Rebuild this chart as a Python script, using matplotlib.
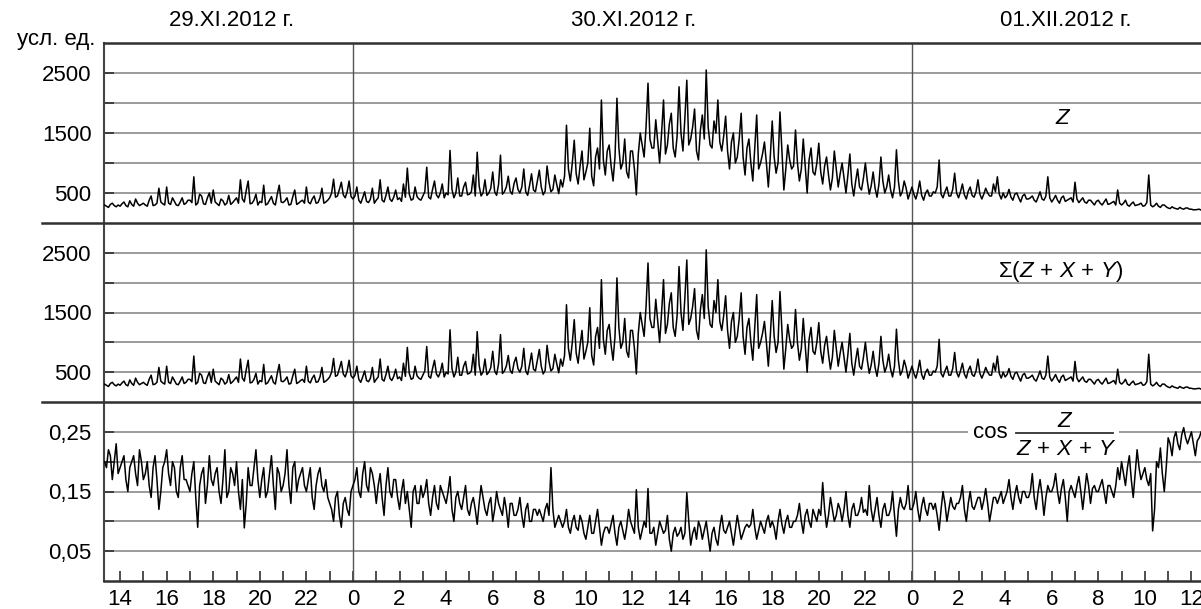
import numpy as np
import matplotlib.pyplot as plt
from matplotlib.lines import Line2D
from matplotlib.patches import Rectangle

plt.rcParams['font.family'] = ['Liberation Sans', 'DejaVu Sans']
plt.rcParams['mathtext.fontset'] = 'custom'
plt.rcParams['mathtext.rm'] = 'Liberation Sans'
plt.rcParams['mathtext.it'] = 'Liberation Sans:italic'

# readings every 10 min from 29.XI 13:20 (hours counted from 29.XI 00:00),
# plus the readings taken 5 min after each of them
t_start = 13 + 20 / 60
t_step = 1 / 6

# Z, one row per hour
z_vals = [
    300, 260, 330, 270,                     # 13
    280, 350, 270, 310, 400, 290,           # 14
    330, 280, 450, 300, 580, 320,           # 15
    600, 310, 360, 290, 420, 330,           # 16
    380, 770, 330, 450, 310, 500,           # 17
    550, 320, 400, 300, 460, 340,           # 18
    420, 720, 350, 700, 330, 480,           # 19
    360, 630, 320, 440, 300, 630,           # 20
    340, 420, 310, 550, 330, 380,           # 21
    600, 320, 450, 340, 580, 350,           # 22
    420, 730, 450, 680, 420, 700,           # 23
    400, 600, 330, 520, 340, 580,           # 0
    380, 720, 350, 600, 360, 550,           # 1
    420, 650, 915, 380, 600, 400,           # 2
    450, 930, 400, 700, 420, 650,           # 3
    500, 1210, 420, 750, 450, 680,          # 4
    480, 800, 1180, 450, 720, 500,          # 5
    850, 460, 1130, 520, 780, 480,          # 6
    750, 500, 900, 460, 820, 520,           # 7
    880, 470, 950, 520, 800, 490,           # 8
    600, 1630, 700, 1380, 650, 1200,        # 9
    850, 1580, 620, 1250, 2050, 800,        # 10
    1300, 700, 2080, 900, 1400, 750,        # 11
    1200, 470, 1500, 1100, 2330, 1250,      # 12
    1720, 1000, 2050, 1300, 1830, 1100,     # 13
    2270, 1200, 2380, 1400, 1900, 1050,     # 14
    1800, 2550, 1300, 1700, 2050, 1200,     # 15
    1780, 900, 1500, 1100, 1830, 800,       # 16
    1400, 700, 1800, 1000, 1350, 600,       # 17
    1700, 830, 1850, 550, 1300, 900,        # 18
    1550, 700, 1400, 500, 1250, 800,        # 19
    1330, 650, 1100, 550, 1200, 600,        # 20
    1000, 500, 1150, 450, 900, 550,         # 21
    1000, 480, 850, 430, 1100, 500,         # 22
    800, 420, 1220, 450, 700, 400,          # 23
    600, 400, 700, 380, 550, 450,           # 0
    500, 1050, 420, 600, 450, 830,          # 1
    420, 650, 400, 600, 430, 720,           # 2
    400, 580, 450, 650, 770, 400,           # 3
    420, 560, 380, 500, 350, 480,           # 4
    400, 450, 350, 520, 380, 770,           # 5
    350, 460, 330, 450, 380, 420,           # 6
    680, 340, 420, 330, 380, 300,           # 7
    380, 300, 400, 320, 360, 550,           # 8
    300, 380, 280, 350, 300, 330,           # 9
    290, 800, 270, 330, 260, 300,           # 10
    250, 270, 240, 260, 230, 250,           # 11
    230, 220, 230,                          # 12
]

# Z, readings 5 min later
z_mid = [
    280, 310, 290, 300,                     # 13
    320, 290, 370, 280, 330, 310,           # 14
    300, 380, 290, 330, 350, 300,           # 15
    330, 420, 300, 350, 310, 380,           # 16
    340, 300, 480, 320, 420, 330,           # 17
    350, 290, 370, 330, 310, 380,           # 18
    330, 400, 540, 320, 380, 300,           # 19
    340, 300, 380, 330, 480, 350,           # 20
    370, 300, 440, 310, 360, 330,           # 21
    350, 400, 330, 420, 330, 380,           # 22
    500, 430, 560, 470, 520, 440,           # 23
    450, 380, 420, 360, 400, 330,           # 0
    420, 380, 460, 400, 430, 390,           # 1
    360, 430, 480, 400, 440, 380,           # 2
    520, 430, 560, 470, 500, 420,           # 3
    470, 560, 500, 450, 600, 470,           # 4
    520, 450, 620, 500, 460, 580,           # 5
    520, 640, 480, 600, 530, 660,           # 6
    560, 600, 520, 630, 550, 700,           # 7
    600, 530, 680, 560, 640, 720,           # 8
    780, 900, 1000, 820, 950, 720,          # 9
    1000, 780, 1100, 900, 1050, 1200,       # 10
    950, 1100, 1250, 1000, 850, 1200,       # 11
    900, 1150, 1300, 1600, 1400, 1250,      # 12
    1350, 1500, 1150, 1650, 1250, 1450,     # 13
    1500, 1750, 1300, 1600, 1200, 1550,     # 14
    1400, 1600, 1250, 1500, 1350, 1450,     # 15
    1200, 1350, 1000, 1400, 1100, 1250,     # 16
    1000, 1250, 900, 1150, 1000, 1100,      # 17
    1100, 1000, 1200, 900, 1050, 950,       # 18
    1000, 900, 950, 1050, 850, 1000,        # 19
    850, 950, 800, 750, 900, 820,           # 20
    750, 800, 650, 700, 600, 750,           # 21
    700, 620, 580, 650, 700, 600,           # 22
    550, 600, 700, 520, 580, 500,           # 23
    480, 520, 460, 500, 450, 520,           # 0
    600, 480, 520, 450, 560, 500,           # 1
    520, 470, 530, 460, 520, 480,           # 2
    480, 500, 450, 520, 480, 500,           # 3
    460, 430, 480, 420, 450, 400,           # 4
    420, 380, 430, 400, 450, 420,           # 5
    400, 380, 420, 360, 400, 350,           # 6
    400, 380, 350, 380, 340, 360,           # 7
    330, 350, 310, 340, 300, 330,           # 8
    330, 300, 320, 290, 310, 280,           # 9
    340, 300, 290, 280, 300, 270,           # 10
    240, 250, 230, 240, 250, 230,           # 11
    220, 225, 215,                          # 12
]

# sum(Z+X+Y): reads the same as Z at this resolution
sum_vals = list(z_vals)
sum_mid = list(z_mid)

# cos Z/(Z+X+Y), one row per hour
cos_vals = [
    .20, .22, .17, .23,                     # 13
    .19, .21, .15, .20, .18, .22,           # 14
    .17, .20, .14, .21, .12, .19,           # 15
    .22, .16, .19, .14, .21, .17,           # 16
    .15, .20, .09, .18, .13, .21,           # 17
    .16, .19, .13, .22, .15, .18,           # 18
    .20, .12, .089, .19, .16, .22,          # 19
    .14, .19, .15, .21, .12, .18,           # 20
    .16, .22, .13, .20, .17, .19,           # 21
    .15, .19, .12, .18, .16, .17,           # 22
    .13, .10, .15, .09, .14, .11,           # 23
    .16, .19, .14, .20, .15, .18,           # 0
    .13, .18, .11, .19, .14, .17,           # 1
    .12, .17, .15, .09, .16, .13,           # 2
    .14, .17, .11, .16, .12, .15,           # 3
    .13, .175, .10, .15, .12, .16,          # 4
    .11, .14, .095, .16, .12, .13,          # 5
    .10, .15, .12, .14, .09, .13,           # 6
    .11, .14, .09, .13, .10, .12,           # 7
    .12, .10, .13, .19, .09, .11,           # 8
    .09, .12, .08, .11, .085, .10,          # 9
    .07, .11, .08, .12, .06, .09,           # 10
    .08, .11, .06, .10, .07, .12,           # 11
    .09, .153, .07, .10, .155, .08,         # 12
    .06, .10, .08, .11, .05, .09,           # 13
    .08, .07, .148, .06, .09, .10,          # 14
    .07, .10, .05, .09, .06, .11,           # 15
    .08, .10, .06, .11, .07, .09,           # 16
    .09, .12, .07, .10, .08, .11,           # 17
    .10, .07, .12, .08, .11, .09,           # 18
    .10, .13, .08, .12, .09, .11,           # 19
    .12, .165, .09, .14, .10, .13,          # 20
    .10, .15, .09, .13, .11, .14,           # 21
    .12, .16, .10, .14, .09, .13,           # 22
    .11, .15, .075, .14, .12, .16,          # 23
    .12, .15, .10, .14, .11, .13,           # 0
    .13, .085, .15, .10, .14, .12,          # 1
    .13, .16, .10, .15, .12, .14,           # 2
    .12, .155, .10, .14, .13, .15,          # 3
    .14, .17, .12, .16, .13, .15,           # 4
    .14, .18, .12, .17, .11, .16,           # 5
    .15, .18, .13, .17, .10, .16,           # 6
    .14, .175, .12, .18, .13, .16,          # 7
    .15, .17, .13, .16, .14, .19,           # 8
    .20, .16, .21, .14, .22, .17,           # 9
    .19, .16, .084, .20, .223, .15,         # 10
    .24, .21, .25, .22, .257, .23,          # 11
    .25, .21, .24,                          # 12
]

# cos, readings 5 min later
cos_mid = [
    .19, .21, .20, .18,                     # 13
    .20, .17, .19, .21, .16, .20,           # 14
    .18, .16, .19, .17, .15, .20,           # 15
    .18, .20, .15, .19, .17, .16,           # 16
    .18, .14, .16, .19, .16, .17,           # 17
    .18, .15, .17, .14, .19, .16,           # 18
    .15, .17, .13, .16, .19, .17,           # 19
    .17, .14, .18, .16, .19, .15,           # 20
    .18, .16, .19, .15, .18, .16,           # 21
    .17, .14, .16, .19, .15, .14,           # 22
    .12, .14, .11, .13, .12, .15,           # 23
    .17, .15, .18, .16, .19, .16,           # 0
    .16, .14, .16, .15, .17, .14,           # 1
    .15, .13, .12, .15, .13, .16,           # 2
    .15, .13, .14, .13, .16, .14,           # 3
    .15, .12, .14, .13, .14, .12,           # 4
    .13, .12, .13, .14, .11, .14,           # 5
    .12, .13, .11, .12, .13, .11,           # 6
    .12, .11, .12, .10, .12, .11,           # 7
    .11, .12, .11, .12, .10, .10,           # 8
    .10, .09, .10, .09, .11, .08,           # 9
    .09, .08, .10, .09, .08, .09,           # 10
    .095, .08, .09, .085, .09, .10,         # 11
    .08, .09, .085, .09, .08, .09,          # 12
    .08, .09, .085, .07, .08, .075,         # 13
    .09, .08, .10, .08, .07, .09,           # 14
    .085, .075, .08, .07, .09, .085,        # 15
    .09, .08, .085, .09, .08, .095,         # 16
    .095, .09, .085, .09, .10, .09,         # 17
    .09, .10, .095, .10, .09, .10,          # 18
    .11, .10, .11, .10, .12, .10,           # 19
    .11, .12, .11, .12, .11, .12,           # 20
    .12, .11, .12, .11, .12, .115,          # 21
    .11, .12, .12, .11, .12, .11,           # 22
    .12, .11, .12, .125, .13, .12,          # 23
    .13, .12, .125, .12, .13, .12,          # 0
    .11, .12, .13, .12, .125, .13,          # 1
    .14, .12, .13, .125, .13, .14,          # 2
    .135, .13, .12, .14, .14, .13,          # 3
    .15, .14, .145, .14, .15, .14,          # 4
    .15, .14, .15, .145, .14, .15,          # 5
    .16, .15, .155, .14, .15, .15,          # 6
    .16, .15, .15, .16, .155, .15,          # 7
    .16, .15, .16, .15, .16, .17,           # 8
    .18, .19, .17, .18, .19, .18,           # 9
    .17, .18, .12, .19, .18, .19,           # 10
    .23, .24, .23, .245, .24, .24,          # 11
    .23, .235, .25,                         # 12
]

date_labels = ['29.XI.2012 г.', '30.XI.2012 г.', '01.XII.2012 г.']
hour_ticks = list(range(14, 61))

t_a = t_start + np.arange(len(z_vals)) * t_step
t = np.concatenate([t_a, t_a + t_step / 2])
order = np.argsort(t)
t = t[order]


def merged(a, b):
    return np.concatenate([a, b])[order]


W, H = 1201, 609
fig = plt.figure(figsize=(W / 100, H / 100), dpi=100)
FS = 16
grid_c = '#8a8a8a'
dark = '#303030'

left = 104 / W
width = 1 - left
edges = [43, 223, 402, 581]  # panel boundaries in pixels from the top
axes = []
for i in range(3):
    top, bot = edges[i], edges[i + 1]
    ax = fig.add_axes([left, 1 - bot / H, width, (bot - top) / H])
    axes.append(ax)
ax1, ax2, ax3 = axes

series = [(ax1, merged(z_vals, z_mid)),
          (ax2, merged(sum_vals, sum_mid)),
          (ax3, merged(cos_vals, cos_mid))]
for ax, vals in series:
    ax.plot(t, vals, color='black', lw=1.1, zorder=3)
    ax.set_xlim(13.31, 60.41)
    for mid in (24, 48):
        ax.axvline(mid, color='#555555', lw=1.0, zorder=1)
    ax.grid(axis='y', color=grid_c, lw=1.2, zorder=0)
    ax.set_axisbelow(True)
    for s in ('right', 'top', 'bottom'):
        ax.spines[s].set_visible(False)
    ax.spines['left'].set_color('#444444')
    ax.spines['left'].set_linewidth(1.5)
    ax.tick_params(axis='y', direction='in', length=7, width=1.2, color=dark,
                   labelsize=FS, pad=9)

for ax in (ax1, ax2):
    ax.set_ylim(0, 3000)
    ax.set_yticks([500, 1000, 1500, 2000, 2500])
    ax.set_yticklabels(['500', '', '1500', '', '2500'])
    ax.set_xticks([])

ax3.set_ylim(0, 0.3)
ax3.set_yticks([0.05, 0.10, 0.15, 0.20, 0.25])
ax3.set_yticklabels(['0,05', '', '0,15', '', '0,25'])
ax3.set_xticks(hour_ticks)
ax3.set_xticklabels([str(h % 24) if h % 2 == 0 else '' for h in hour_ticks])
ax3.tick_params(axis='x', direction='in', length=7, width=1.2, color=dark,
                labelsize=FS, pad=6)
ax3.spines['bottom'].set_visible(True)
ax3.spines['bottom'].set_color(dark)
ax3.spines['bottom'].set_linewidth(1.8)
ax1.spines['top'].set_visible(True)
ax1.spines['top'].set_color(dark)
ax1.spines['top'].set_linewidth(1.8)

# separators between panels reach past the left spine
for yp in (223, 402):
    fig.add_artist(Line2D([42 / W, 1], [1 - yp / H, 1 - yp / H],
                          transform=fig.transFigure, color=dark, lw=1.8))

# series labels
ax1.text(54.5, 1750, '$Z$', fontsize=FS, ha='center', va='center')
ax2.text(54.4, 2180, r'$\Sigma(Z\,+\,X\,+\,Y)$', fontsize=FS,
         ha='center', va='center')

# cos Z/(Z+X+Y) built from pieces so the fraction keeps full size
ax3.add_patch(Rectangle((50.4, 0.208), 6.5, 0.078, facecolor='white',
                        edgecolor='none', zorder=2))
ax3.text(51.35, 0.2397, 'cos', fontsize=FS, ha='center', va='baseline', zorder=4)
ax3.text(54.6, 0.2581, '$Z$', fontsize=FS, ha='center', va='baseline', zorder=4)
ax3.plot([52.47, 56.63], [0.248, 0.248], color='#303030', lw=1.3, zorder=4)
ax3.text(54.6, 0.2112, r'$Z\,+\,X\,+\,Y$', fontsize=FS, ha='center',
         va='baseline', zorder=4)

# dates and unit
for xc, lab in zip([232, 634, 1066], date_labels):
    fig.text(xc / W, 1 - 20 / H, lab, fontsize=FS, ha='center', va='center')
fig.text(95 / W, 1 - 40 / H, 'усл. ед.', fontsize=FS, ha='right', va='center')

fig.savefig('out.png', dpi=100)
